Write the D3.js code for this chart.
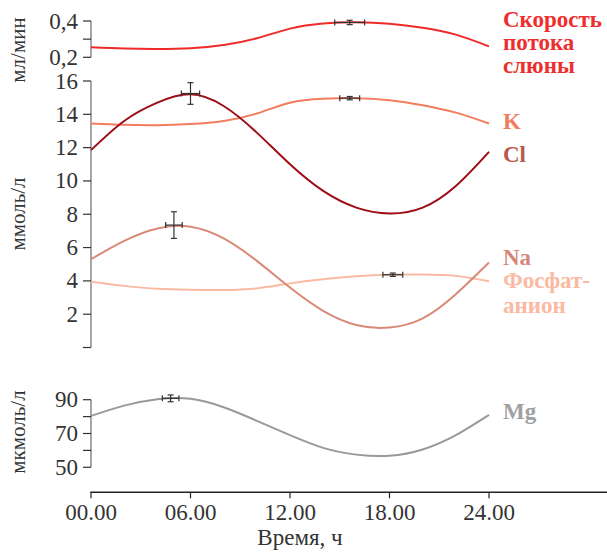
<!DOCTYPE html>
<html>
<head>
<meta charset="utf-8">
<script src="https://cdn.jsdelivr.net/npm/d3@7"></script>
<style>
  body { margin: 0; background: #fff; }
</style>
</head>
<body>
<svg id="chart" width="607" height="552" style="display:block" font-family="Liberation Serif">
  <text x="300" y="545" text-anchor="middle" font-family="Liberation Serif" font-size="23" fill="#333">Время, ч</text>
</svg>
<script>
// hours of the day, every 2 h
const hours = [0, 2, 4, 6, 8, 10, 12, 14, 16, 18, 20, 22, 24]

// saliva flow, ml/min
const flowRate = [0.255, 0.248, 0.246, 0.250, 0.268, 0.305, 0.358, 0.386, 0.393, 0.385, 0.363, 0.325, 0.26]
// electrolytes, mmol/l
const potassium = [13.45, 13.37, 13.35, 13.42, 13.6, 14.05, 14.7, 14.93, 14.97, 14.85, 14.55, 14.1, 13.45]
const chloride = [11.85, 13.6, 14.7, 15.2, 14.5, 12.9, 11.0, 9.4, 8.4, 8.05, 8.4, 9.7, 11.75]
const sodium = [5.3, 6.4, 7.15, 7.25, 6.55, 5.2, 3.6, 2.2, 1.35, 1.2, 1.75, 3.2, 5.1]
const phosphate = [3.95, 3.7, 3.52, 3.46, 3.45, 3.55, 3.85, 4.1, 4.28, 4.37, 4.38, 4.3, 3.98]
// magnesium, umol/l
const magnesium = [80.4, 86.5, 90.3, 90.5, 85.5, 77.5, 69, 61.5, 57.5, 56.8, 60.5, 69, 81]

// peaks with error bars: [hour, value, dx hours, dy value]
const flowPeak = [15.6, 0.392, 0.9, 0.012]
const kPeak = [15.6, 14.97, 0.6, 0.1]
const clPeak = [6.0, 15.25, 0.55, 0.65]
const naPeak = [5.0, 7.35, 0.5, 0.8]
const phPeak = [18.2, 4.37, 0.6, 0.1]
const mgPeak = [4.8, 90.8, 0.5, 2.0]

const xTicks = [0, 6, 12, 18, 24]
const xTickLabels = ["00.00", "06.00", "12.00", "18.00", "24.00"]

const width = 607, height = 552
const serif = "Liberation Serif"

const svg = d3.select("#chart")

const x = d3.scaleLinear().domain([0, 24]).range([91, 489])

const yFlow = d3.scaleLinear().domain([0.2, 0.4]).range([57.3, 21])
const yMmol = d3.scaleLinear().domain([0, 16]).range([347.5, 81])
const yMg = d3.scaleLinear().domain([50, 90]).range([467.3, 399.7])

// y axes
function drawYAxis(scale, ticks, labels, extent) {
    const g = svg.append("g").attr("transform", "translate(91,0)")
    g.append("line")
        .attr("y1", scale(extent[0])).attr("y2", scale(extent[1]))
        .attr("stroke", "#777").attr("stroke-width", 1.3)
    g.selectAll(".tick")
        .data(ticks)
        .join("line")
        .attr("x1", -8).attr("x2", 0)
        .attr("y1", d => scale(d)).attr("y2", d => scale(d))
        .attr("stroke", "#333").attr("stroke-width", 1.2)
    g.selectAll(".lbl")
        .data(labels)
        .join("text")
        .attr("x", -13)
        .attr("y", d => scale(d[0]) + 7.5)
        .attr("text-anchor", "end")
        .attr("font-family", serif)
        .attr("font-size", 23)
        .attr("fill", "#333")
        .text(d => d[1])
}

drawYAxis(yFlow, [0.2, 0.3, 0.4], [[0.4, "0,4"], [0.2, "0,2"]], [0.2, 0.4])
drawYAxis(yMmol, [0, 2, 4, 6, 8, 10, 12, 14, 16],
    [2, 4, 6, 8, 10, 12, 14, 16].map(d => [d, d]), [0, 16])
drawYAxis(yMg, [50, 60, 70, 80, 90], [[90, 90], [70, 70], [50, 50]], [50, 90])

// axis titles
const titles = [["мл/мин", 50], ["ммоль/л", 214], ["мкмоль/л", 432]]
svg.selectAll(".ytitle")
    .data(titles)
    .join("text")
    .attr("transform", d => `translate(25,${d[1]}) rotate(-90)`)
    .attr("text-anchor", "middle")
    .attr("font-family", serif)
    .attr("font-size", 21)
    .attr("fill", "#333")
    .text(d => d[0])

// x axis
const xAxis = svg.append("g").attr("transform", "translate(0,492.3)")
xAxis.append("line")
    .attr("x1", 90.3).attr("x2", width)
    .attr("stroke", "#222").attr("stroke-width", 1.5)
xAxis.selectAll(".tick")
    .data(xTicks)
    .join("line")
    .attr("x1", d => x(d)).attr("x2", d => x(d))
    .attr("y1", 0).attr("y2", 6)
    .attr("stroke", "#222").attr("stroke-width", 1.2)
xAxis.selectAll(".lbl")
    .data(xTicks)
    .join("text")
    .attr("x", d => x(d))
    .attr("y", 28)
    .attr("text-anchor", "middle")
    .attr("font-family", serif)
    .attr("font-size", 23)
    .attr("fill", "#333")
    .text((d, i) => xTickLabels[i])

// curves
const series = [
    { vals: flowRate, y: yFlow, color: "#ee2a2a", width: 2 },
    { vals: potassium, y: yMmol, color: "#f27c5e", width: 2 },
    { vals: phosphate, y: yMmol, color: "#f9b9a2", width: 2 },
    { vals: sodium, y: yMmol, color: "#d98a77", width: 2 },
    { vals: chloride, y: yMmol, color: "#9e0c14", width: 2 },
    { vals: magnesium, y: yMg, color: "#999999", width: 2 }
]

series.forEach(s => {
    const line = d3.line()
        .x((d, i) => x(hours[i]))
        .y(d => s.y(d))
        .curve(d3.curveNatural)
    svg.append("path")
        .datum(s.vals)
        .attr("d", line)
        .attr("fill", "none")
        .attr("stroke", s.color)
        .attr("stroke-width", s.width)
})

// error bars
const peaks = [
    [flowPeak, yFlow], [kPeak, yMmol], [clPeak, yMmol],
    [naPeak, yMmol], [phPeak, yMmol], [mgPeak, yMg]
]
peaks.forEach(([p, ys]) => {
    const g = svg.append("g").attr("stroke", "#333").attr("stroke-width", 1.2)
    const cx = x(p[0]), cy = ys(p[1])
    const x0 = x(p[0] - p[2]), x1 = x(p[0] + p[2])
    const y0 = ys(p[1] - p[3]), y1 = ys(p[1] + p[3])
    g.append("line").attr("x1", x0).attr("x2", x1).attr("y1", cy).attr("y2", cy)
    g.append("line").attr("x1", x0).attr("x2", x0).attr("y1", cy - 3).attr("y2", cy + 3)
    g.append("line").attr("x1", x1).attr("x2", x1).attr("y1", cy - 3).attr("y2", cy + 3)
    g.append("line").attr("x1", cx).attr("x2", cx).attr("y1", y0).attr("y2", y1)
    g.append("line").attr("x1", cx - 3).attr("x2", cx + 3).attr("y1", y0).attr("y2", y0)
    g.append("line").attr("x1", cx - 3).attr("x2", cx + 3).attr("y1", y1).attr("y2", y1)
})

// series labels
const labels = [
    ["Скорость", 27, "#ee2e2e"], ["потока", 50, "#ee2e2e"], ["слюны", 73, "#ee2e2e"],
    ["K", 129, "#f27c5e"], ["Cl", 162, "#b85a48"], ["Na", 265, "#d4887a"],
    ["Фосфат-", 288, "#f9b9a2"], ["анион", 313, "#f9b9a2"], ["Mg", 419, "#a0a0a0"]
]
svg.selectAll(".slabel")
    .data(labels)
    .join("text")
    .attr("x", 503)
    .attr("y", d => d[1])
    .attr("font-family", serif)
    .attr("font-size", 23)
    .attr("font-weight", "bold")
    .attr("fill", d => d[2])
    .text(d => d[0])
</script>
</body>
</html>
